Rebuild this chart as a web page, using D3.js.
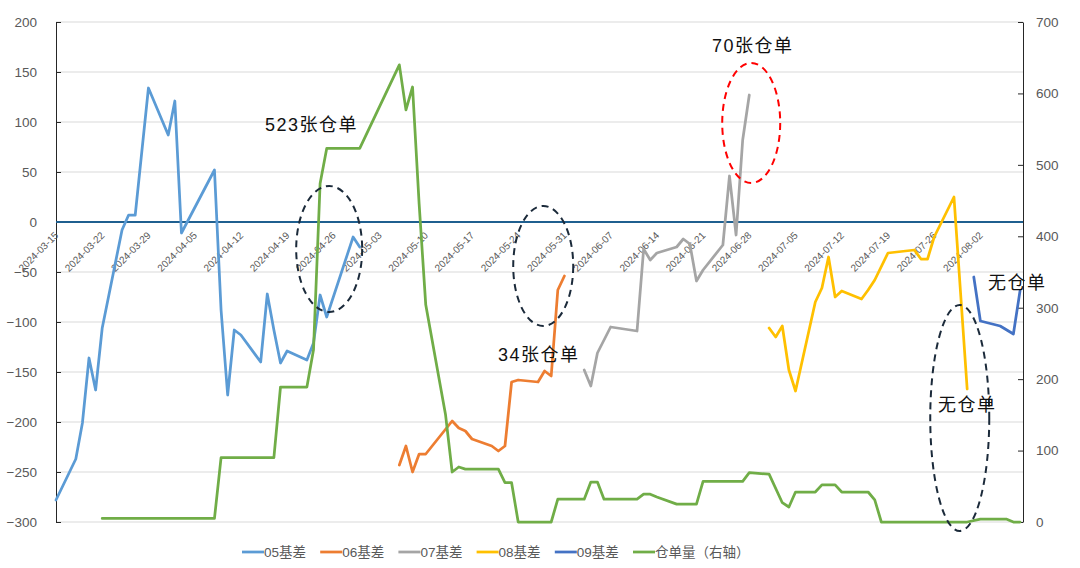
<!DOCTYPE html>
<html><head><meta charset="utf-8">
<script src="https://cdn.jsdelivr.net/npm/d3@7"></script>
<style>
html,body{margin:0;padding:0;background:#fff;}
svg{display:block;}
text{font-family:"Liberation Sans","Noto Sans CJK SC",sans-serif;}
</style></head>
<body>
<svg id="chart" width="1080" height="568"></svg>
<script>
// ---------- DATA ----------
const tickDates = ["2024-03-15","2024-03-22","2024-03-29","2024-04-05","2024-04-12","2024-04-19","2024-04-26","2024-05-03","2024-05-10","2024-05-17","2024-05-24","2024-05-31","2024-06-07","2024-06-14","2024-06-21","2024-06-28","2024-07-05","2024-07-12","2024-07-19","2024-07-26","2024-08-02"];
const leftTicks = [-300,-250,-200,-150,-100,-50,0,50,100,150,200];
const rightTicks = [0,100,200,300,400,500,600,700];

const dates05 = ["03-15","03-18","03-19","03-20","03-21","03-22","03-25","03-26","03-27","03-29","04-01","04-02","04-03","04-08","04-09","04-10","04-11","04-12","04-15","04-16","04-17","04-18","04-19","04-22","04-23","04-24","04-25","04-29","04-30"];
const vals05  = [-278,-237,-201,-136,-168,-106,-8,7,7,134,87,121,-11,52,-88,-173,-108,-113,-140,-72,-108,-141,-129,-138,-121,-73,-95,-15,-25];

const dates06 = ["05-06","05-07","05-08","05-09","05-10","05-14","05-15","05-16","05-17","05-20","05-21","05-22","05-23","05-24","05-27","05-28","05-29","05-30","05-31"];
const vals06  = [-243,-224,-250,-232,-232,-199,-206,-209,-217,-224,-229,-224,-160,-158,-160,-149,-154,-68,-54];

const dates07 = ["06-03","06-04","06-05","06-07","06-11","06-12","06-13","06-14","06-17","06-18","06-19","06-20","06-21","06-24","06-25","06-26","06-27","06-28"];
const vals07  = [-148,-164,-131,-105,-109,-27,-38,-31,-25,-17,-22,-59,-48,-23,46,-13,82,127];

const dates08 = ["07-01","07-02","07-03","07-04","07-05","07-08","07-09","07-10","07-11","07-12","07-15","07-16","07-17","07-19","07-23","07-24","07-25","07-26","07-29","07-31"];
const vals08  = [-106,-115,-104,-148,-169,-80,-66,-35,-75,-69,-77,-68,-58,-31,-28,-37,-37,-15,25,-167];

const dates09 = ["08-01","08-02","08-05","08-07","08-08"];
const vals09  = [-55,-99,-104,-112,-69];

const datesW = ["03-22","04-08","04-09","04-17","04-18","04-22","04-23","04-24","04-25","04-30","05-06","05-07","05-08","05-09","05-10","05-13","05-14","05-15","05-16","05-21","05-22","05-23","05-24","05-29","05-30","06-03","06-04","06-05","06-06","06-11","06-12","06-13","06-14","06-17","06-20","06-21","06-27","06-28","07-01","07-03","07-04","07-05","07-08","07-09","07-11","07-12","07-16","07-17","07-18","07-31","08-02","08-06","08-07","08-08"];
const valsW  = [5,5,90,90,189,189,241,474,523,523,640,577,609,445,304,150,70,77,74,74,55,55,0,0,32,32,56,56,32,32,39,39,35,25,25,57,57,69,67,27,21,42,42,52,52,42,42,31,0,0,4,4,0,0];

const seriesNames = ["05基差","06基差","07基差","08基差","09基差","仓单量（右轴）"];
const seriesColors = ["#5B9BD5","#ED7D31","#A5A5A5","#FFC000","#4472C4","#70AD47"];

// ---------- SETUP ----------
const parse = s => d3.timeParse("%Y-%m-%d")(s.length === 5 ? "2024-" + s : s);
const svg = d3.select("#chart");
const L = 56, R = 1023, T = 22, B = 522;
const x = d3.scaleTime().domain([parse("2024-03-15"), parse("2024-08-08")]).range([L, 1020]);
const yL = d3.scaleLinear().domain([-300, 200]).range([B, T]);
const yR = d3.scaleLinear().domain([0, 700]).range([B, T]);
const grey = "#595959";

// gridlines
svg.append("g").selectAll("line").data(leftTicks).join("line")
  .attr("x1", L).attr("x2", R).attr("y1", d => yL(d)).attr("y2", d => yL(d))
  .attr("stroke", "#D9D9D9").attr("stroke-width", 1);

// left axis
const gl = svg.append("g").attr("transform", `translate(${L},0)`)
  .call(d3.axisLeft(yL).tickValues(leftTicks).tickSize(-5).tickSizeOuter(0).tickPadding(19));
gl.select(".domain").attr("stroke", "#262626");
gl.selectAll(".tick line").attr("stroke", "#262626");
gl.selectAll(".tick text").attr("fill", grey).attr("font-size", "13.5px")
  .attr("font-family", "Liberation Sans, sans-serif");

// right axis
const gr = svg.append("g").attr("transform", `translate(${R},0)`)
  .call(d3.axisRight(yR).tickValues(rightTicks).tickSize(-5).tickSizeOuter(0).tickPadding(13));
gr.select(".domain").attr("stroke", "#262626");
gr.selectAll(".tick line").attr("stroke", "#262626");
gr.selectAll(".tick text").attr("fill", grey).attr("font-size", "13.5px")
  .attr("font-family", "Liberation Sans, sans-serif");

// zero line (category axis)
svg.append("line").attr("x1", L).attr("x2", R).attr("y1", yL(0)).attr("y2", yL(0))
  .attr("stroke", "#1F5F8F").attr("stroke-width", 2);

// date labels
svg.append("g").selectAll("text").data(tickDates).join("text")
  .attr("transform", d => `translate(${x(parse(d)) + 3},${yL(0) + 14}) rotate(-45)`)
  .attr("text-anchor", "end").attr("font-size", "10px").attr("fill", grey)
  .text(d => d);

// series
const line = (yScale) => d3.line().x(d => x(d[0])).y(d => yScale(d[1]));
const mk = (ds, vs) => ds.map((d, i) => [parse(d), vs[i]]);
const leftSeries = [mk(dates05, vals05), mk(dates06, vals06), mk(dates07, vals07), mk(dates08, vals08), mk(dates09, vals09)];
leftSeries.forEach((s, i) => {
  svg.append("path").datum(s).attr("d", line(yL)).attr("fill", "none")
    .attr("stroke", seriesColors[i]).attr("stroke-width", 2.75)
    .attr("stroke-linejoin", "round").attr("stroke-linecap", "round");
});
svg.append("path").datum(mk(datesW, valsW)).attr("d", line(yR)).attr("fill", "none")
  .attr("stroke", seriesColors[5]).attr("stroke-width", 2.75)
  .attr("stroke-linejoin", "round").attr("stroke-linecap", "round");

// ellipses (annotations)
const ell = [
  {c: "2024-04-25T09:00", v: -27, rx: 33, ry: 63, col: "#1B2A3A"},
  {c: "2024-05-27T19:00", v: -44, rx: 30, ry: 60, col: "#1B2A3A"},
  {c: "2024-06-28T07:00", v: 99, rx: 29, ry: 60, col: "#FF0000"},
  {c: "2024-07-29T21:00", v: -196, rx: 29.5, ry: 113, col: "#1B2A3A"}
];
const pt = d3.timeParse("%Y-%m-%dT%H:%M");
svg.append("g").selectAll("ellipse").data(ell).join("ellipse")
  .attr("cx", d => x(pt(d.c))).attr("cy", d => yL(d.v))
  .attr("rx", d => d.rx).attr("ry", d => d.ry)
  .attr("fill", "none").attr("stroke", d => d.col).attr("stroke-width", 2)
  .attr("stroke-dasharray", "7,5");

// annotation texts
const notes = [
  {t: "523张仓单", d: "2024-04-16", v: 91},
  {t: "70张仓单", d: "2024-06-25", v: 170},
  {t: "34张仓单", d: "2024-05-22", v: -139},
  {t: "无仓单", d: "2024-08-02T", v: -67},
  {t: "无仓单", d: "2024-07-28T", v: -189}
];
const notePos = [[265, 131], [712, 52], [498, 361], [988, 289], [938, 411]];
svg.append("g").selectAll("text").data(notes).join("text")
  .attr("x", (d, i) => notePos[i][0]).attr("y", (d, i) => notePos[i][1])
  .attr("font-size", "18px").attr("fill", "#111").attr("letter-spacing", "1.5px")
  .text(d => d.t);

// legend
const lg = svg.append("g");
seriesNames.forEach((n, i) => {
  const lx = 242 + i * 78.2, ly = 552;
  lg.append("line").attr("x1", lx).attr("x2", lx + 22).attr("y1", ly).attr("y2", ly)
    .attr("stroke", seriesColors[i]).attr("stroke-width", 2.75);
  lg.append("text").attr("x", lx + 22).attr("y", ly + 5).attr("font-size", "13.5px")
    .attr("fill", grey).text(n);
});
</script>
</body></html>
